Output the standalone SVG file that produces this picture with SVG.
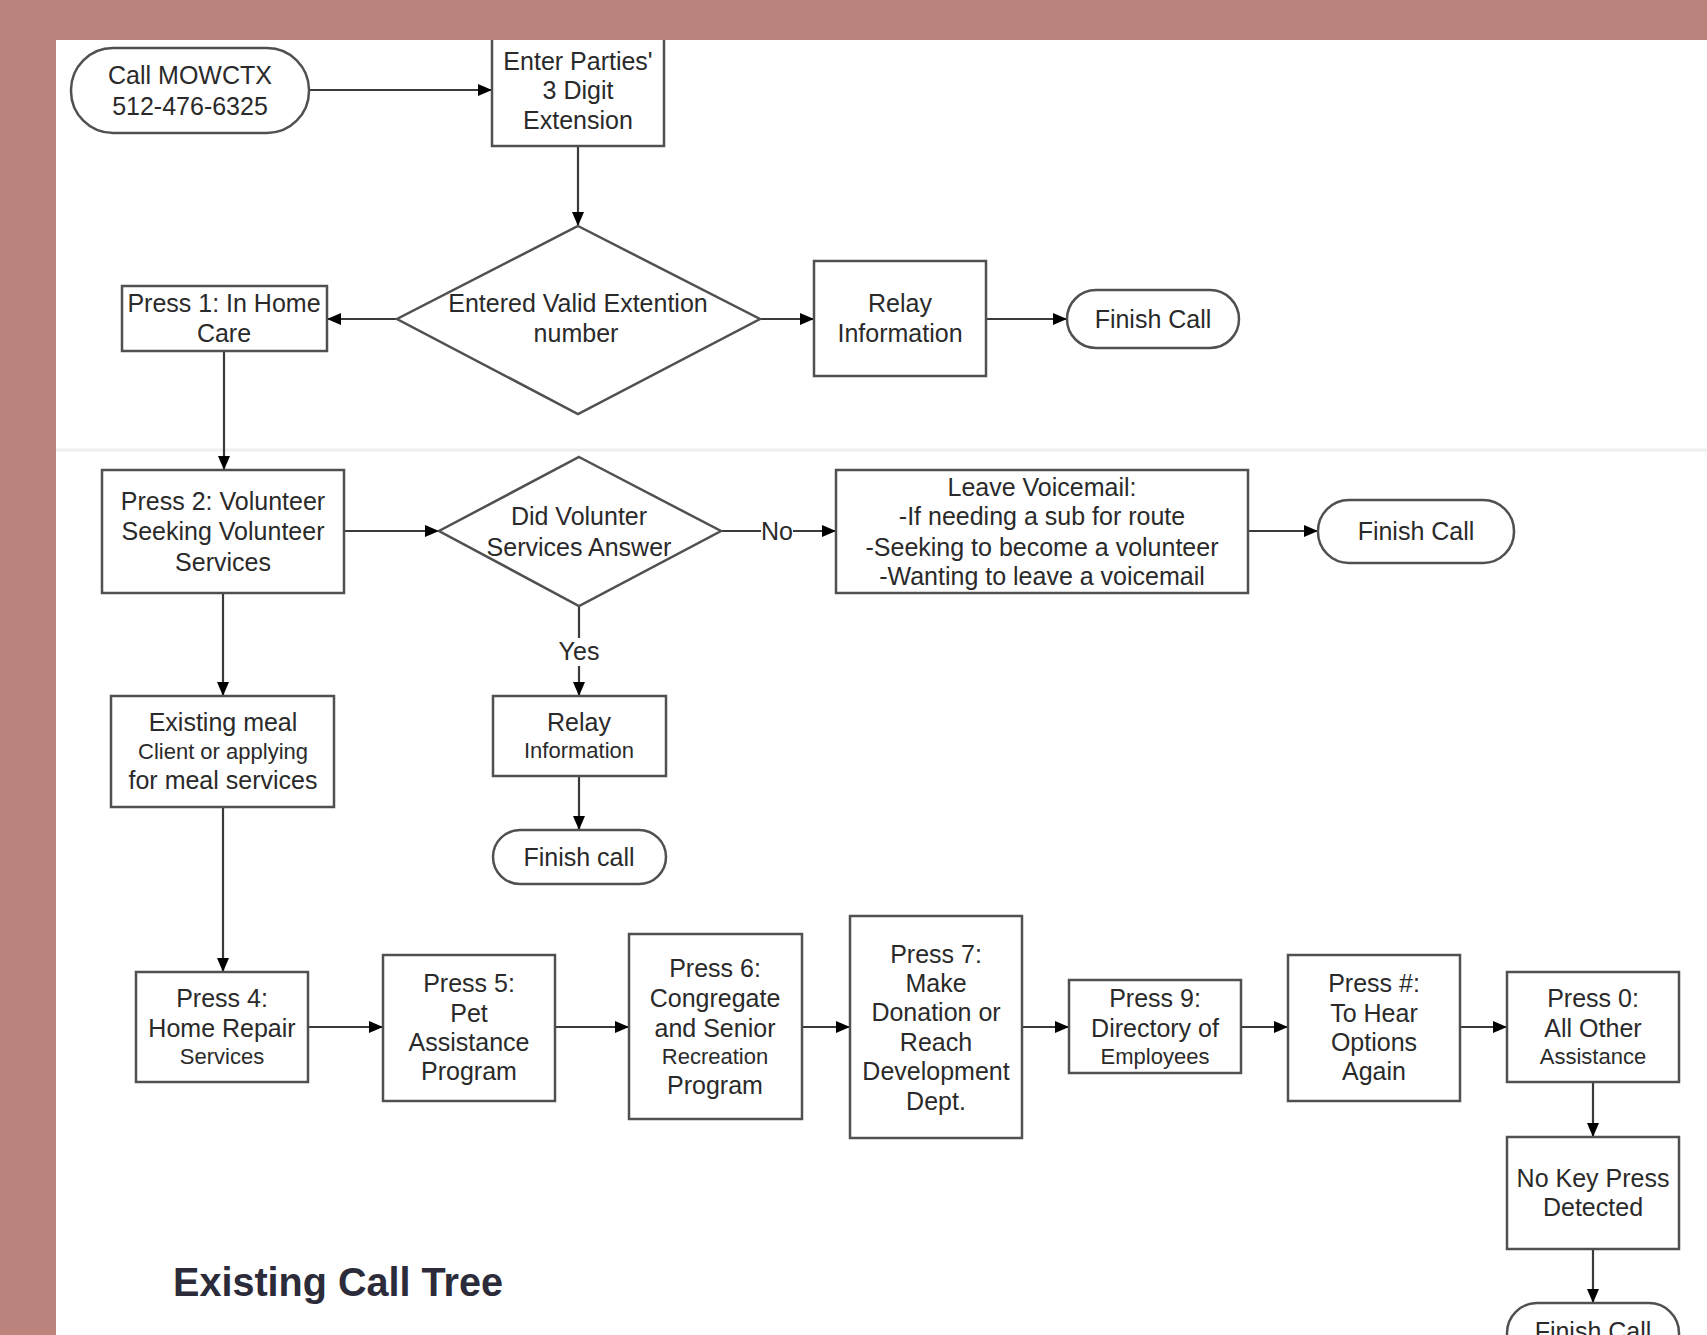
<svg xmlns="http://www.w3.org/2000/svg" width="1707" height="1335" viewBox="0 0 1707 1335">
<style>
.box{fill:#fff;stroke:#505050;stroke-width:2.5}
.t{font-family:"Liberation Sans",Arial,sans-serif;font-size:25px;fill:#2a2a2a;text-anchor:middle}
.s{font-size:22px}
.c{fill:none;stroke:#3a3a3a;stroke-width:2.2}
.title{font-family:"Liberation Sans",Arial,sans-serif;font-size:40px;font-weight:bold;fill:#2b2b3a}
</style>
<defs>
<marker id="ah" markerWidth="14" markerHeight="14" refX="13" refY="7" orient="auto" markerUnits="userSpaceOnUse">
<path d="M0,1 L14,7 L0,13 Z" fill="#000"/>
</marker>
</defs>
<rect x="0" y="0" width="1707" height="1335" fill="#fff"/>
<line x1="56" y1="450" x2="1707" y2="450" stroke="#efefef" stroke-width="3"/>

<g id="connectors">
<line class="c" x1="309" y1="90" x2="491" y2="90" marker-end="url(#ah)"/>
<line class="c" x1="578" y1="146" x2="578" y2="225" marker-end="url(#ah)"/>
<line class="c" x1="397" y1="319" x2="328" y2="319" marker-end="url(#ah)"/>
<line class="c" x1="760" y1="319" x2="813" y2="319" marker-end="url(#ah)"/>
<line class="c" x1="986" y1="319" x2="1066" y2="319" marker-end="url(#ah)"/>
<line class="c" x1="224" y1="351" x2="224" y2="469" marker-end="url(#ah)"/>
<line class="c" x1="344" y1="531" x2="438" y2="531" marker-end="url(#ah)"/>
<line class="c" x1="721" y1="531" x2="835" y2="531" marker-end="url(#ah)"/>
<rect x="761" y="518" width="32" height="26" fill="#fff"/>
<text class="t" x="777" y="540">No</text>
<line class="c" x1="1248" y1="531" x2="1317" y2="531" marker-end="url(#ah)"/>
<line class="c" x1="579" y1="606" x2="579" y2="695" marker-end="url(#ah)"/>
<rect x="558" y="638" width="42" height="28" fill="#fff"/>
<text class="t" x="579" y="660">Yes</text>
<line class="c" x1="579" y1="776" x2="579" y2="829" marker-end="url(#ah)"/>
<line class="c" x1="223" y1="593" x2="223" y2="695" marker-end="url(#ah)"/>
<line class="c" x1="223" y1="807" x2="223" y2="971" marker-end="url(#ah)"/>
<line class="c" x1="308" y1="1027" x2="382" y2="1027" marker-end="url(#ah)"/>
<line class="c" x1="555" y1="1027" x2="628" y2="1027" marker-end="url(#ah)"/>
<line class="c" x1="802" y1="1027" x2="849" y2="1027" marker-end="url(#ah)"/>
<line class="c" x1="1022" y1="1027" x2="1068" y2="1027" marker-end="url(#ah)"/>
<line class="c" x1="1241" y1="1027" x2="1287" y2="1027" marker-end="url(#ah)"/>
<line class="c" x1="1460" y1="1027" x2="1506" y2="1027" marker-end="url(#ah)"/>
<line class="c" x1="1593" y1="1082" x2="1593" y2="1136" marker-end="url(#ah)"/>
<line class="c" x1="1593" y1="1249" x2="1593" y2="1302" marker-end="url(#ah)"/>
</g>

<g id="call-mowctx">
<rect class="box" x="71" y="48" width="238" height="85" rx="42"/>
<text class="t" x="190" y="84">Call MOWCTX</text>
<text class="t" x="190" y="115">512-476-6325</text>
</g>
<g id="enter-extension">
<rect class="box" x="492" y="20" width="172" height="126"/>
<text class="t" x="578" y="70">Enter Parties'</text>
<text class="t" x="578" y="99">3 Digit</text>
<text class="t" x="578" y="129">Extension</text>
</g>
<g id="valid-extension">
<polygon class="box" points="578,226 760,319 578,414 397,319"/>
<text class="t" x="578" y="312">Entered Valid Extention</text>
<text class="t" x="576" y="342">number</text>
</g>
<g id="press1">
<rect class="box" x="122" y="286" width="205" height="65"/>
<text class="t" x="224" y="312">Press 1: In Home</text>
<text class="t" x="224" y="342">Care</text>
</g>
<g id="relay1">
<rect class="box" x="814" y="261" width="172" height="115"/>
<text class="t" x="900" y="312">Relay</text>
<text class="t" x="900" y="342">Information</text>
</g>
<g id="finish1">
<rect class="box" x="1067" y="290" width="172" height="58" rx="29"/>
<text class="t" x="1153" y="328">Finish Call</text>
</g>
<g id="press2">
<rect class="box" x="102" y="470" width="242" height="123"/>
<text class="t" x="223" y="510">Press 2: Volunteer</text>
<text class="t" x="223" y="540">Seeking Volunteer</text>
<text class="t" x="223" y="571">Services</text>
</g>
<g id="volunteer-answer">
<polygon class="box" points="579,457 721,531 579,606 439,531"/>
<text class="t" x="579" y="525">Did Volunter</text>
<text class="t" x="579" y="556">Services Answer</text>
</g>
<g id="voicemail">
<rect class="box" x="836" y="470" width="412" height="123"/>
<text class="t" x="1042" y="496">Leave Voicemail:</text>
<text class="t" x="1042" y="525">-If needing a sub for route</text>
<text class="t" x="1042" y="556">-Seeking to become a volunteer</text>
<text class="t" x="1042" y="585">-Wanting to leave a voicemail</text>
</g>
<g id="finish2">
<rect class="box" x="1318" y="500" width="196" height="63" rx="31"/>
<text class="t" x="1416" y="540">Finish Call</text>
</g>
<g id="relay2">
<rect class="box" x="493" y="696" width="173" height="80"/>
<text class="t" x="579" y="731">Relay</text>
<text class="t s" x="579" y="758">Information</text>
</g>
<g id="finish3">
<rect class="box" x="493" y="830" width="173" height="54" rx="27"/>
<text class="t" x="579" y="866">Finish call</text>
</g>
<g id="existing-meal">
<rect class="box" x="111" y="696" width="223" height="111"/>
<text class="t" x="223" y="731">Existing meal</text>
<text class="t s" x="223" y="759">Client or applying</text>
<text class="t" x="223" y="789">for meal services</text>
</g>
<g id="press4">
<rect class="box" x="136" y="972" width="172" height="110"/>
<text class="t" x="222" y="1007">Press 4:</text>
<text class="t" x="222" y="1037">Home Repair</text>
<text class="t s" x="222" y="1064">Services</text>
</g>
<g id="press5">
<rect class="box" x="383" y="955" width="172" height="146"/>
<text class="t" x="469" y="992">Press 5:</text>
<text class="t" x="469" y="1022">Pet</text>
<text class="t" x="469" y="1051">Assistance</text>
<text class="t" x="469" y="1080">Program</text>
</g>
<g id="press6">
<rect class="box" x="629" y="934" width="173" height="185"/>
<text class="t" x="715" y="977">Press 6:</text>
<text class="t" x="715" y="1007">Congregate</text>
<text class="t" x="715" y="1037">and Senior</text>
<text class="t s" x="715" y="1064">Recreation</text>
<text class="t" x="715" y="1094">Program</text>
</g>
<g id="press7">
<rect class="box" x="850" y="916" width="172" height="222"/>
<text class="t" x="936" y="963">Press 7:</text>
<text class="t" x="936" y="992">Make</text>
<text class="t" x="936" y="1021">Donation or</text>
<text class="t" x="936" y="1051">Reach</text>
<text class="t" x="936" y="1080">Development</text>
<text class="t" x="936" y="1110">Dept.</text>
</g>
<g id="press9">
<rect class="box" x="1069" y="980" width="172" height="93"/>
<text class="t" x="1155" y="1007">Press 9:</text>
<text class="t" x="1155" y="1037">Directory of</text>
<text class="t s" x="1155" y="1064">Employees</text>
</g>
<g id="press-hash">
<rect class="box" x="1288" y="955" width="172" height="146"/>
<text class="t" x="1374" y="992">Press #:</text>
<text class="t" x="1374" y="1022">To Hear</text>
<text class="t" x="1374" y="1051">Options</text>
<text class="t" x="1374" y="1080">Again</text>
</g>
<g id="press0">
<rect class="box" x="1507" y="972" width="172" height="110"/>
<text class="t" x="1593" y="1007">Press 0:</text>
<text class="t" x="1593" y="1037">All Other</text>
<text class="t s" x="1593" y="1064">Assistance</text>
</g>
<g id="no-key">
<rect class="box" x="1507" y="1137" width="172" height="112"/>
<text class="t" x="1593" y="1187">No Key Press</text>
<text class="t" x="1593" y="1216">Detected</text>
</g>
<g id="finish4">
<rect class="box" x="1507" y="1303" width="172" height="62" rx="30"/>
<text class="t" x="1593" y="1340">Finish Call</text>
</g>

<rect x="0" y="0" width="1707" height="40" fill="#ba837b"/>
<rect x="0" y="0" width="56" height="1335" fill="#ba837b"/>
<text class="title" x="173" y="1296" textLength="330" lengthAdjust="spacingAndGlyphs">Existing Call Tree</text>
</svg>
